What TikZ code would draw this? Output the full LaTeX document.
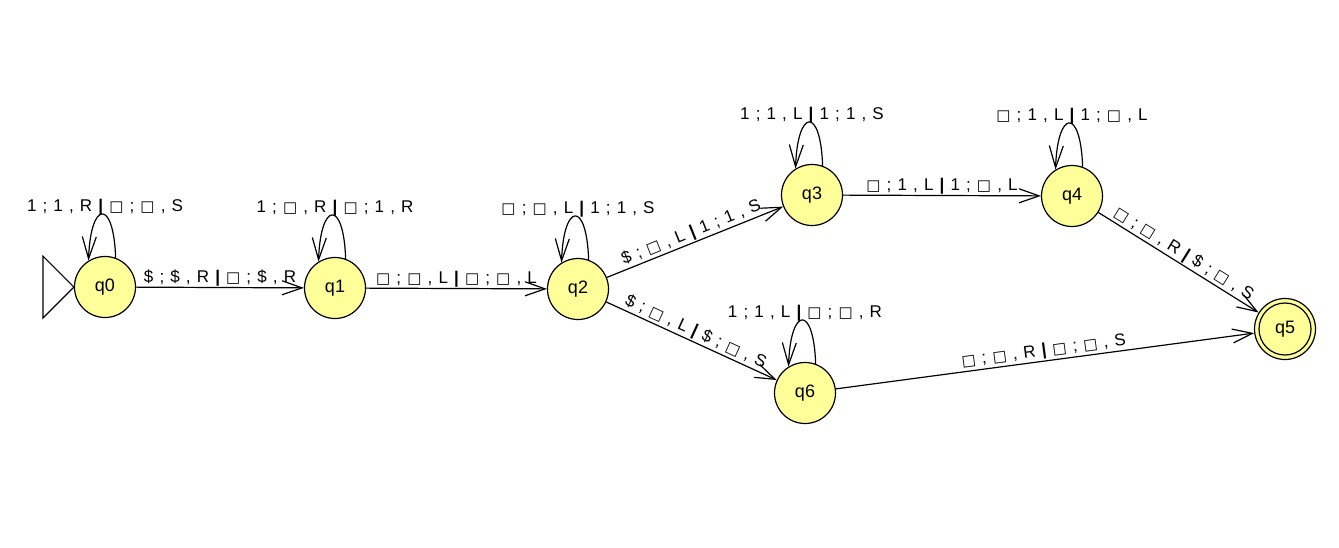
\documentclass[tikz,border=0pt]{standalone}
\usepackage{fontspec}
\setmainfont[WordSpace=1.3]{Liberation Sans}
\newfontfamily\symf{DejaVu Sans}
\usetikzlibrary{arrows.meta}
\definecolor{stfill}{RGB}{255,255,153}
\newcommand\vb{{\bfseries|}}
\newcommand\bx{{\symf\fontsize{15}{15}\selectfont\symbol{"25A1}}}
\begin{document}
\begin{tikzpicture}[x=1pt,y=1pt,
  state/.style={circle, draw, line width=1.2pt, fill=stfill, minimum size=61pt, inner sep=0pt, font=\fontsize{18}{20}\selectfont},
  lbl/.style={font=\fontsize{17}{19}\selectfont, inner sep=1pt},
  edge/.style={line width=1.2pt, -{Straight Barb[length=20pt,width=14pt]}},
  loopedge/.style={line width=1.2pt, -{Straight Barb[length=22pt,width=14pt]}}]
\useasboundingbox (0,0) rectangle (1339,-547);
\node[state] (q0) at (105,-287) {q0};
\node[state] (q1) at (335,-288) {q1};
\node[state] (q2) at (578,-289) {q2};
\node[state] (q3) at (812,-195) {q3};
\node[state] (q4) at (1072,-196) {q4};
\node[state] (q5) at (1285,-329) {q5};
\node[state] (q6) at (805,-393) {q6};
\draw[line width=1.2pt] (q5.center) circle[radius=26];
% initial arrow
\draw[line width=1.2pt] (q0.west) -- ++(-31,31) -- ++(0,-62) -- cycle;
% loops
\foreach \q in {q0,q1,q2,q3,q4,q6}{
  \draw[loopedge] (\q.70) .. controls +(-2,60) and +(2,60) .. (\q.122);
}
\node[lbl, anchor=base] (l0) at ([yshift=76pt]q0.center) {1 ; 1 , R \vb{} \bx{} ; \bx{} , S};
\node[lbl, anchor=base] (l1) at ([yshift=76pt]q1.center) {1 ; \bx{} , R \vb{} \bx{} ; 1 , R};
\node[lbl, anchor=base] (l2) at ([yshift=76pt]q2.center) {\bx{} ; \bx{} , L \vb{} 1 ; 1 , S};
\node[lbl, anchor=base] (l3) at ([yshift=76pt]q3.center) {1 ; 1 , L \vb{} 1 ; 1 , S};
\node[lbl, anchor=base] (l4) at ([yshift=76pt]q4.center) {\bx{} ; 1 , L \vb{} 1 ; \bx{} , L};
\node[lbl, anchor=base] (l6) at ([yshift=76pt]q6.center) {1 ; 1 , L \vb{} \bx{} ; \bx{} , R};
% edges
\draw[edge] (q0) -- node[lbl, above] (e01) {\$ ; \$ , R \vb{} \bx{} ; \$ , R} (q1);
\draw[edge] (q1) -- node[lbl, above] (e12) {\bx{} ; \bx{} , L \vb{} \bx{} ; \bx{} , L} (q2);
\draw[edge] (q2) -- node[lbl, above, sloped] (e23) {\$ ; \bx{} , L \vb{} 1 ; 1 , S} (q3);
\draw[edge] (q3) -- node[lbl, above] (e34) {\bx{} ; 1 , L \vb{} 1 ; \bx{} , L} (q4);
\draw[edge] (q4) -- node[lbl, above, sloped] (e45) {\bx{} ; \bx{} , R \vb{} \$ ; \bx{} , S} (q5);
\draw[edge] (q2) -- node[lbl, above, sloped] (e26) {\$ ; \bx{} , L \vb{} \$ ; \bx{} , S} (q6);
\draw[edge] (q6) -- node[lbl, above, sloped] (e65) {\bx{} ; \bx{} , R \vb{} \bx{} ; \bx{} , S} (q5);
\end{tikzpicture}
\end{document}
